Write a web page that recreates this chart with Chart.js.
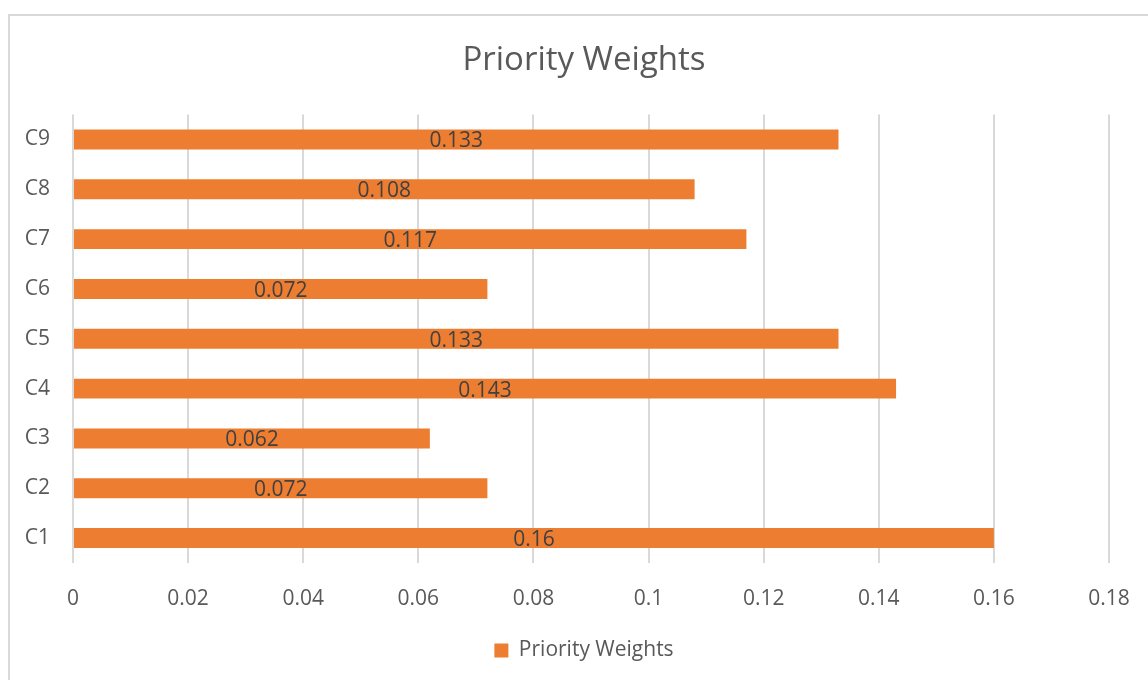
<!DOCTYPE html>
<html>
<head>
<meta charset="utf-8">
<script src="https://cdn.jsdelivr.net/npm/chart.js@4/dist/chart.umd.min.js"></script>
<style>
  html, body { margin: 0; padding: 0; background: #fff; overflow: hidden; }
  #wrap { width: 1148px; height: 680px; position: relative; overflow: hidden; }
  #bar-chart { position: absolute; left: 0; top: 0; }
</style>
</head>
<body>
<div id="wrap"><canvas id="bar-chart" width="1168" height="680"></canvas></div>
<script>
var categories = ['C1', 'C2', 'C3', 'C4', 'C5', 'C6', 'C7', 'C8', 'C9'];
var weights = [0.16, 0.072, 0.062, 0.143, 0.133, 0.072, 0.117, 0.108, 0.133];
var xTicks = [0, 0.02, 0.04, 0.06, 0.08, 0.1, 0.12, 0.14, 0.16, 0.18];

var fontName = "'Open Sans', 'Noto Sans', sans-serif";

// frame lines of the chart box (its right edge runs off the page)
var framePlugin = {
  id: 'frame',
  beforeDraw(chart) {
    var ctx = chart.ctx;
    ctx.save();
    ctx.strokeStyle = '#d9d9d9';
    ctx.lineWidth = 2;
    ctx.beginPath();
    ctx.moveTo(9, 680);
    ctx.lineTo(9, 15);
    ctx.lineTo(chart.width, 15);
    ctx.stroke();
    ctx.restore();
  }
};

// value labels in the middle of each bar
var valueLabels = {
  id: 'valueLabels',
  afterDatasetsDraw(chart) {
    var ctx = chart.ctx;
    var meta = chart.getDatasetMeta(0);
    ctx.save();
    ctx.font = '21px ' + fontName;
    ctx.fillStyle = '#404040';
    ctx.textAlign = 'center';
    ctx.textBaseline = 'middle';
    meta.data.forEach(function (bar, i) {
      var cx = (bar.x + bar.base) / 2;
      ctx.fillText(String(weights[i]), cx, bar.y + 2);
    });
    ctx.restore();
  }
};

new Chart('bar-chart', {
  type: 'bar',
  data: {
    labels: categories,
    datasets: [{
      label: 'Priority Weights',
      data: weights,
      backgroundColor: '#ed7d31',
      borderWidth: 0,
      categoryPercentage: 1,
      barPercentage: 0.4
    }]
  },
  options: {
    indexAxis: 'y',
    responsive: false,
    animation: false,
    layout: { padding: { left: 0, right: 0, top: 0, bottom: 9 } },
    plugins: {
      title: {
        display: true,
        text: 'Priority Weights',
        color: '#595959',
        font: { family: fontName, size: 33, weight: 'normal' },
        padding: { top: 41, bottom: 34 }
      },
      legend: {
        position: 'bottom',
        labels: {
          color: '#595959',
          font: { family: fontName, size: 21 },
          boxWidth: 14,
          boxHeight: 14,
          padding: 10
        }
      },
      tooltip: { enabled: false }
    },
    scales: {
      x: {
        min: 0,
        max: 0.18,
        afterBuildTicks(scale) {
          scale.ticks = xTicks.map(function (v) { return { value: v }; });
        },
        afterFit(scale) {
          scale.height = 67;
          scale.paddingRight = 59;
        },
        ticks: {
          color: '#595959',
          font: { family: fontName, size: 21 },
          padding: 23,
          callback: function (v) { return String(+v.toFixed(2)); }
        },
        grid: { color: '#d9d9d9', lineWidth: 2, drawTicks: false },
        border: { display: false }
      },
      y: {
        reverse: true,
        afterFit(scale) { scale.width = 73; },
        ticks: {
          color: '#595959',
          font: { family: fontName, size: 21 },
          padding: 23
        },
        grid: { display: false, drawTicks: false },
        border: { display: false }
      }
    }
  },
  plugins: [framePlugin, valueLabels]
});
</script>
</body>
</html>
